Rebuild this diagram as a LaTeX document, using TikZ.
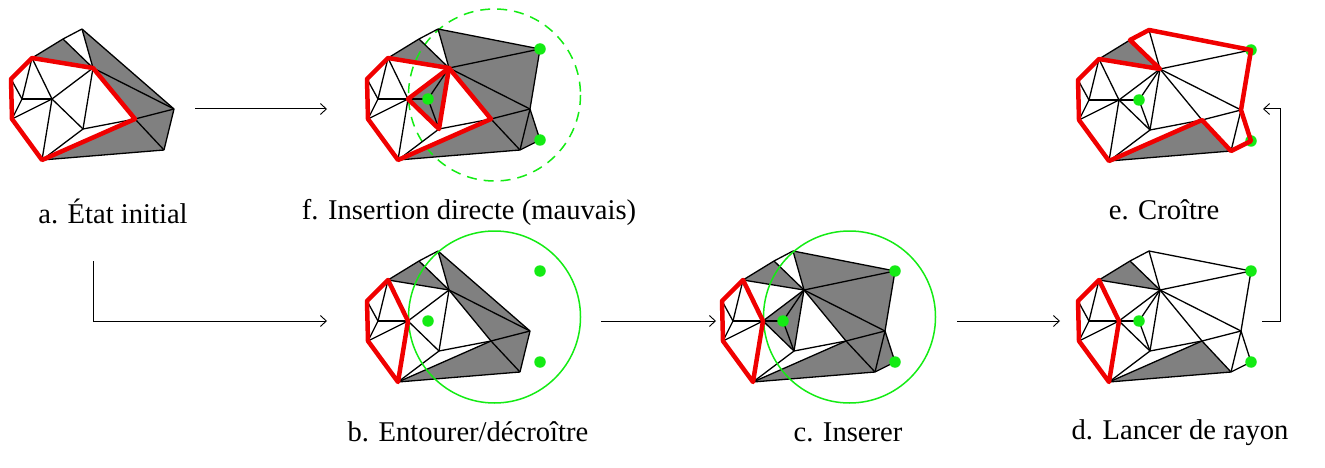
\documentclass[tikz,border=0pt]{standalone}
\usepackage{fontspec}
\setmainfont{Liberation Serif}
\usetikzlibrary{arrows.meta}
\definecolor{meshgray}{RGB}{128,128,128}
\definecolor{limeg}{RGB}{20,235,20}
\definecolor{redg}{RGB}{240,0,0}
\tikzset{
  meshfill/.style={fill=meshgray,draw=none},
  edge/.style={draw=black,line width=1.3pt,line join=round},
  redline/.style={draw=redg,line width=4.5pt,line join=round,line cap=round},
  ring/.style={draw=limeg,line width=1.5pt},
  dot/.style={circle,fill=limeg,inner sep=0pt,minimum size=11.5pt},
  link/.style={draw=black,line width=1pt,-{Straight Barb[length=6pt,width=11pt,line width=0.9pt]}},
  caption/.style={font=\fontsize{28.6}{32}\selectfont,inner sep=0pt,anchor=base}
}
\newcommand{\pts}[3]{%
  \begin{scope}[shift={(#2,#3)}]
  \foreach \n/\x/\y in {A/82/29,B/63/39,C/32/58,D/11/79,E/12/119,F/42/160,G/22/99,H/52/99,I/93/68,J/83/129,K/135/119,L/174/109,M/164/150,P/184/49,Q/184/140,R/72/99,O/138.5/95}
    {\coordinate (#1\n) at (\x,\y);}
  \end{scope}}
\newcommand{\fills}[2]{\foreach \a/\b/\c in {#2}{\path[meshfill] (#1\a)--(#1\b)--(#1\c)--cycle;}}
\newcommand{\edges}[2]{\foreach \a/\b in {#2}{\draw[edge] (#1\a)--(#1\b);}}
\newcommand{\coreedges}[1]{\edges{#1}{C/B,B/A,D/C,E/D,F/E,G/C,G/D,G/E,H/G,H/C,H/E,H/I,H/J,H/F,I/J,I/A,I/B,I/C,I/L,I/K,J/K,J/F,K/F,K/L,K/M,L/M,M/F}}
\newcommand{\plusedges}[1]{\edges{#1}{A/P,P/I,P/L,L/Q,Q/M,H/R,I/R,J/R}}
\begin{document}
\begin{tikzpicture}[x=1pt,y=-1pt]
\useasboundingbox (0,0) rectangle (1325,468);
\pts{a}{0}{0}\pts{f}{356}{0}\pts{b}{356}{222}\pts{c}{711}{222}\pts{d}{1067}{222}\pts{e}{1067}{1}
% a
\fills{a}{B/C/I,A/I/L,I/K/L,K/L/M,F/K/M}
\coreedges{a}\edges{a}{A/L}
\draw[redline] (aC)--(aI)--(aK)--(aF)--(aE)--(aD)--cycle;
% f
\fills{f}{B/C/I,A/I/P,I/P/L,I/K/L,K/L/M,L/M/Q,F/K/M,H/I/J}
\draw[ring,dash pattern=on 10pt off 7pt] (fO) circle (86);
\coreedges{f}\plusedges{f}
\node[dot] (fp) at (fP) {};\node[dot] (fq) at (fQ) {};\node[dot] (fr) at (fR) {};
\draw[redline] (fC)--(fI)--(fK)--(fF)--(fE)--(fD)--cycle;
\draw[redline] (fH)--(fI)--(fJ)--cycle;
% b
\fills{b}{B/C/I,A/I/L,I/K/L,K/L/M,F/K/M}
\coreedges{b}\edges{b}{A/L}
\draw[ring] (bO) circle (86);
\draw[redline] (bC)--(bH)--(bF)--(bE)--(bD)--cycle;
\node[dot] (bp) at (bP) {};\node[dot] (bq) at (bQ) {};\node[dot] (br) at (bR) {};
% c
\fills{c}{B/C/I,A/I/P,I/P/L,I/K/L,K/L/M,L/M/Q,F/K/M,H/I/J}
\coreedges{c}\plusedges{c}
\draw[ring] (cO) circle (86);
\draw[redline] (cC)--(cH)--(cF)--(cE)--(cD)--cycle;
\node[dot] (cp) at (cP) {};\node[dot] (cq) at (cQ) {};\node[dot] (cr) at (cR) {};
% d
\fills{d}{B/C/I,F/K/M}
\coreedges{d}\plusedges{d}
\node[dot] (dp) at (dP) {};\node[dot] (dq) at (dQ) {};\node[dot] (dr) at (dR) {};
\draw[redline] (dC)--(dH)--(dF)--(dE)--(dD)--cycle;
% e
\fills{e}{B/C/I,F/K/M}
\coreedges{e}\plusedges{e}
\node[dot] (ep) at (eP) {};\node[dot] (eq) at (eQ) {};\node[dot] (er) at (eR) {};
\draw[redline] (eC)--(eI)--(eB)--(eA)--(eP)--(eL)--(eQ)--(eM)--(eK)--(eF)--(eE)--(eD)--cycle;
% captions
\node[caption] (ta) at (113,223) {a. État initial};
\node[caption] (tf) at (469,219) {f. Insertion directe (mauvais)};
\node[caption] (tb) at (468,441) {b. Entourer/décroître};
\node[caption] (tc) at (848,441) {c. Inserer};
\node[caption] (td) at (1180,439) {d. Lancer de rayon};
\node[caption] (te) at (1164,219) {e. Croître};
% connectors
\coordinate (a1) at (195,109);\coordinate (f0) at (327,109);
\coordinate (a2) at (93,261);\coordinate (b0) at (327,321);
\coordinate (b1) at (601,321);\coordinate (c0) at (716,321);
\coordinate (c1) at (957,321);\coordinate (d0) at (1060,321);
\coordinate (d1) at (1262,321);\coordinate (e0) at (1263,109);
\coordinate (tr1) at (1280,321);\coordinate (tr2) at (1280,109);
\draw[link] (a1)--(f0);
\draw[link] (a2)|-(b0);
\draw[link] (b1)--(c0);
\draw[link] (c1)--(d0);
\draw[link] (d1)--(tr1)--(tr2)--(e0);
\end{tikzpicture}
\end{document}
